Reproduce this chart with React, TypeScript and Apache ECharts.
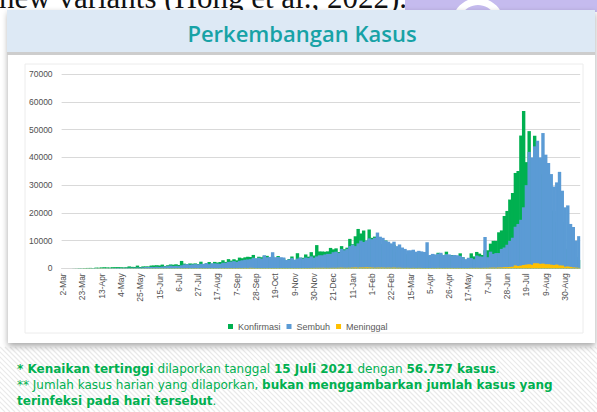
import React, { useEffect, useRef } from "react";
import * as echarts from "echarts";

// Daily reports sampled every 3 days, starting 2 March 2020
const START = Date.UTC(2020, 2, 2);
const STEP_DAYS = 3;
const MONTHS = ["Jan", "Feb", "Mar", "Apr", "May", "Jun", "Jul", "Aug", "Sep", "Oct", "Nov", "Dec"];

const seriesNames = ["Konfirmasi", "Sembuh", "Meninggal"];

const konfirmasi = [
  2, 0, 2, 7, 27, 38, 81,
  65, 103, 130, 149, 106, 247, 219,
  316, 380, 327, 283, 396, 415, 433,
  395, 338, 387, 689, 529, 486, 973,
  479, 687, 700, 684, 993, 1043, 1111,
  1017, 1331, 862, 1113, 1385, 1293, 1447,
  1209, 2657, 1681, 1522, 1752, 1655, 1761,
  1525, 2381, 1560, 1815, 2277, 1693, 2307,
  2081, 2266, 2900, 2306, 3308, 2775, 3269,
  2880, 3861, 3636, 3963, 4168, 4071, 4823,
  3509, 4174, 3992, 4538, 4497, 3906, 4301,
  3373, 4432, 3732, 3565, 2696, 3356, 4262,
  2853, 5444, 3807, 3807, 4998, 4192, 5828,
  4617, 8369, 6089, 6058, 5992, 6120, 7354,
  6848, 7199, 5854, 8002, 6877, 7445, 10617,
  8692, 11557, 14200, 12568, 13632, 9994, 14000,
  10994, 11434, 10827, 8776, 8435, 10029, 9039,
  7300, 8493, 6000, 6808, 6971, 5176, 5000,
  4000, 6000, 4900, 5500, 5100, 4900, 4400,
  3000, 5000, 4300, 5600, 5000, 4500, 6000,
  3500, 4800, 3800, 4400, 5400, 4000, 2400,
  3100, 5400, 4300, 5900, 5300, 4800, 6500,
  6500, 8900, 9900, 9900, 12990, 13670, 18870,
  20700, 24800, 27200, 34400, 35100, 47900, 56757,
  38300, 49500, 38700, 47800, 37300, 33900, 39500,
  20700, 24700, 20800, 20700, 16700, 19000, 16700,
  5400, 7000, 4500, 7100, 4100, 3000,
];

const sembuh = [
  0, 0, 0, 0, 5, 3, 2,
  4, 5, 8, 16, 12, 28, 46,
  27, 56, 40, 51, 69, 80, 130,
  110, 172, 150, 180, 200, 200, 263,
  240, 300, 450, 460, 500, 450, 560,
  470, 600, 700, 780, 980, 800, 900,
  800, 1100, 1400, 1500, 1300, 1400, 1500,
  1400, 1600, 1600, 1900, 1500, 1800, 1800,
  1700, 1600, 2000, 2000, 2300, 2400, 2600,
  2300, 2700, 2900, 3100, 3200, 3300, 3800,
  3600, 3800, 3500, 4700, 4000, 4100, 5800,
  4000, 4100, 4000, 3900, 3000, 3200, 3700,
  3100, 3500, 3900, 3500, 3900, 3700, 4300,
  3800, 4300, 4700, 4700, 5000, 5200, 5200,
  5800, 6000, 5500, 7000, 6500, 7000, 8000,
  8500, 8000, 9000, 10000, 9500, 10000, 10800,
  10500, 11000, 12900, 11400, 11000, 10000, 9600,
  9000, 9600, 8000, 8600, 7500, 7000, 6500,
  6500, 6700, 6000, 6300, 6100, 5900, 9400,
  4800, 5200, 5000, 5300, 5600, 4800, 5100,
  5000, 4700, 4800, 4700, 4500, 4000, 3300,
  3800, 3700, 3300, 4600, 4300, 4200, 11300,
  4000, 6000, 5200, 5500, 5500, 7000, 7500,
  8500, 9900, 11000, 15000, 16000, 17500, 22000,
  30000, 42000, 40000, 44000, 46000, 40000, 48800,
  41000, 38000, 34000, 29500, 31000, 34800, 28000,
  22000, 22700, 16000, 14900, 10000, 11600,
];

const meninggal = [
  0, 0, 0, 1, 1, 1, 7,
  11, 20, 12, 21, 10, 12, 40,
  26, 27, 13, 19, 15, 13, 8,
  21, 35, 20, 21, 36, 30, 36,
  19, 23, 40, 35, 31, 32, 45,
  50, 45, 35, 50, 37, 50, 50,
  70, 58, 71, 87, 59, 55, 89,
  57, 74, 79, 68, 73, 61, 69,
  43, 69, 95, 86, 92, 103, 82,
  105, 120, 92, 135, 112, 160, 128,
  87, 100, 88, 98, 85, 100, 101,
  100, 95, 102, 100, 90, 90, 100,
  85, 104, 80, 100, 110, 112, 130,
  130, 156, 150, 170, 150, 150, 150,
  165, 150, 186, 230, 180, 186, 200,
  250, 300, 220, 300, 290, 340, 300,
  280, 200, 250, 240, 250, 200, 230,
  200, 260, 180, 200, 150, 140, 160,
  120, 150, 100, 140, 130, 110, 110,
  110, 130, 100, 140, 120, 100, 130,
  120, 130, 100, 130, 110, 100, 90,
  100, 150, 120, 160, 130, 150, 160,
  170, 210, 240, 200, 280, 300, 410,
  420, 500, 555, 1040, 826, 980, 1200,
  1340, 1450, 1270, 1820, 1800, 1600, 1700,
  1475, 1466, 1300, 1180, 1350, 1038, 1000,
  570, 650, 500, 330, 250, 160,
];

const categories = konfirmasi.map((_, i) => {
  const d = new Date(START + i * STEP_DAYS * 86400000);
  return `${d.getUTCDate()}-${MONTHS[d.getUTCMonth()]}`;
});

const title = "Perkembangan Kasus";
const topText = "new variants (Hong et al., 2022).";
const note1 = "{b|* Kenaikan tertinggi}{r| dilaporkan tanggal }{b|15 Juli 2021}{r| dengan }{b|56.757 kasus}{r|.}";
const note2 = "{r|** Jumlah kasus harian yang dilaporkan, }{b|bukan menggambarkan jumlah kasus yang}";
const note3 = "{b|terinfeksi pada hari tersebut}{r|.}";

const GREEN = "#00b050";
const BLUE = "#5b9bd5";
const YELLOW = "#ffc000";

export default function App() {
  const ref = useRef<HTMLDivElement>(null);

  useEffect(() => {
    if (!ref.current) return;
    const chart = echarts.init(ref.current, undefined, { renderer: "svg" });

    const hatch: any[] = [];
    for (let x = -70; x < 600; x += 5) {
      hatch.push({
        type: "line",
        z: -7,
        silent: true,
        shape: { x1: x, y1: 347, x2: x + 65, y2: 412 },
        style: { stroke: "#e9e9e9", lineWidth: 1.2 },
      });
    }

    const noteFont = "DejaVu Sans";
    const noteRich = {
      b: { fontFamily: noteFont, fontWeight: "bold", fontSize: 12, fill: GREEN, color: GREEN },
      r: { fontFamily: noteFont, fontWeight: "normal", fontSize: 12, fill: GREEN, color: GREEN },
    };

    const barCommon = { type: "bar", barGap: "-100%", barWidth: 3.4 };

    const option: any = {
      animation: false,
      backgroundColor: "#ffffff",
      textStyle: { fontFamily: "Liberation Sans" },
      grid: { left: 61.6, right: 16.8, top: 74.3, bottom: 143.7, containLabel: false },
      legend: {
        data: seriesNames,
        left: 223,
        top: 317,
        icon: "rect",
        itemWidth: 5,
        itemHeight: 5,
        itemGap: 6,
        textStyle: { fontSize: 9, color: "#595959", fontFamily: "Liberation Sans" },
      },
      xAxis: {
        type: "category",
        data: categories,
        boundaryGap: true,
        axisLine: { lineStyle: { color: "#d9d9d9" } },
        axisTick: { interval: 6, alignWithLabel: true, length: 4, lineStyle: { color: "#d9d9d9" } },
        axisLabel: { interval: 6, rotate: 90, fontSize: 8.5, color: "#505050", margin: 5 },
      },
      yAxis: {
        type: "value",
        min: 0,
        max: 70000,
        interval: 10000,
        axisLine: { show: false },
        axisTick: { show: false },
        splitLine: { lineStyle: { color: "#d9d9d9" } },
        axisLabel: { fontSize: 8.5, color: "#505050", margin: 9, formatter: (v: number) => String(v) },
      },
      series: [
        { ...barCommon, name: seriesNames[0], data: konfirmasi, itemStyle: { color: GREEN } },
        { ...barCommon, name: seriesNames[1], data: sembuh, itemStyle: { color: BLUE } },
        { ...barCommon, name: seriesNames[2], data: meninggal, itemStyle: { color: YELLOW } },
      ],
      graphic: {
        elements: [
          {
            type: "text", z: -10, x: -1, y: -3, silent: true,
            style: { text: topText, fill: "#111", font: '31px "Liberation Serif"', textVerticalAlign: "middle" },
          },
          { type: "rect", z: -9, silent: true, shape: { x: 405, y: 0, width: 192, height: 12 }, style: { fill: "#c5bbee" } },
          { type: "ring", z: -8, silent: true, shape: { cx: 478, cy: 24, r: 26, r0: 19 }, style: { fill: "#ffffff" } },
          ...hatch,
          {
            type: "rect", z: -6, silent: true,
            shape: { x: 8, y: 10, width: 587, height: 333 },
            style: { fill: "#ffffff", shadowBlur: 6, shadowColor: "rgba(0,0,0,0.35)", shadowOffsetY: 3 },
          },
          { type: "rect", z: -5, silent: true, shape: { x: 7, y: 10, width: 588, height: 42 }, style: { fill: "#dde9f5" } },
          { type: "rect", z: -5, silent: true, shape: { x: 7, y: 52, width: 588, height: 3 }, style: { fill: "#cdcdcd" } },
          {
            type: "text", z: -4, x: 302, y: 33, silent: true,
            style: { text: title, fill: "#17a2a6", font: '600 22px "Open Sans"', textAlign: "center", textVerticalAlign: "middle" },
          },
          {
            type: "rect", z: -4, silent: true,
            shape: { x: 25, y: 64, width: 558, height: 269 },
            style: { fill: "#ffffff", stroke: "#ececec", lineWidth: 1 },
          },
          { type: "text", z: -3, x: 17, y: 369, silent: true, style: { text: note1, rich: noteRich, textVerticalAlign: "middle" } },
          { type: "text", z: -3, x: 17, y: 385, silent: true, style: { text: note2, rich: noteRich, textVerticalAlign: "middle" } },
          { type: "text", z: -3, x: 17, y: 401, silent: true, style: { text: note3, rich: noteRich, textVerticalAlign: "middle" } },
        ],
      },
    };

    chart.setOption(option);
    return () => chart.dispose();
  }, []);

  return (
    <div
      ref={ref}
      style={{ position: "fixed", left: 0, top: 0, width: 597, height: 412 }}
    />
  );
}
